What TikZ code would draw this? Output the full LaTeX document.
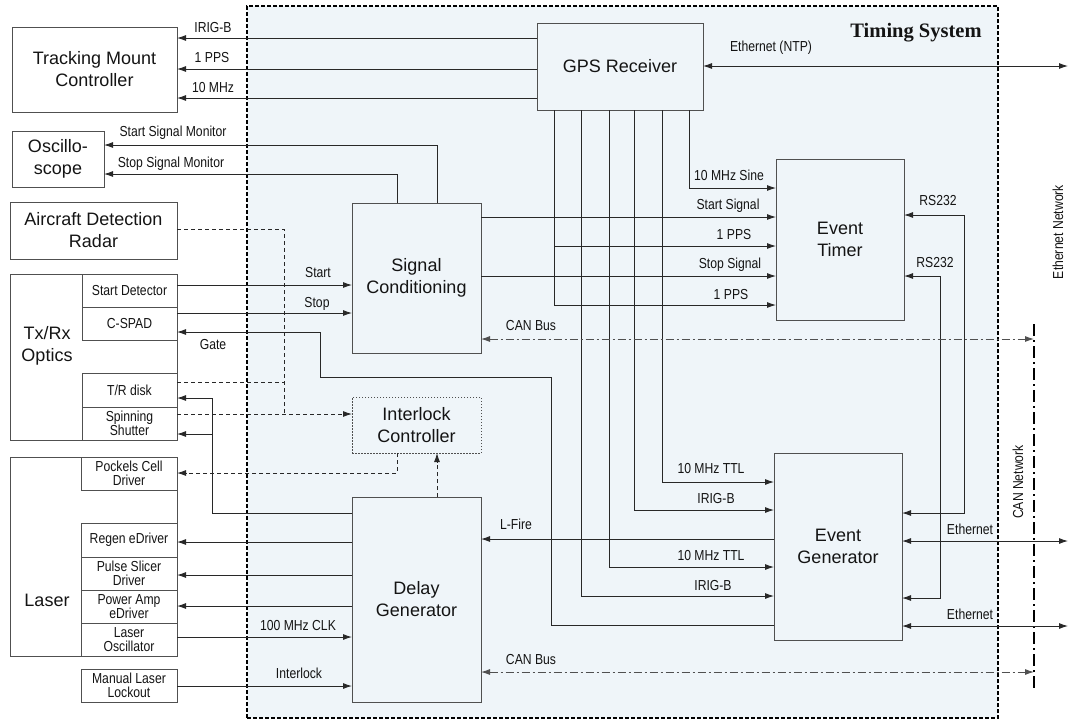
\documentclass[tikz,border=0pt]{standalone}
\usepackage{fontspec}
\setmainfont{Liberation Sans}
\newfontfamily\narrowfont[FakeStretch=0.84]{Liberation Sans}
\newfontfamily\titlefont{Liberation Serif}
\usetikzlibrary{arrows.meta}
\definecolor{tsbg}{RGB}{239,245,249}
\definecolor{ln}{RGB}{40,40,40}
\definecolor{bd}{RGB}{80,80,80}
\definecolor{tx}{RGB}{20,20,20}
\begin{document}
\begin{tikzpicture}[x=1pt,y=-1pt,
  box/.style={draw=bd, line width=0.9pt, anchor=north west, inner sep=0pt, outer sep=0pt,
    align=center, text=tx, font=\fontsize{18}{22}\selectfont},
  sub/.style={box, font=\narrowfont\fontsize{14.5}{14}\selectfont},
  big/.style={inner sep=0pt, align=center, text=tx, font=\fontsize{18}{22}\selectfont},
  lbl/.style={anchor=base, inner sep=0pt, text=tx, font=\narrowfont\fontsize{14.5}{15}\selectfont},
  tip/.tip={Latex[length=9pt,width=6pt]},
  arr/.style={draw=ln, line width=0.9pt, -tip},
  arrb/.style={draw=ln, line width=0.9pt, tip-tip},
  dsh/.style={draw=ln, line width=0.9pt, dash pattern=on 4pt off 3pt},
  dsharr/.style={dsh, -tip},
  canbus/.style={draw=bd, line width=0.9pt, dash pattern=on 8pt off 3pt on 2pt off 3pt, tip-tip},
]
\useasboundingbox (0,0) rectangle (1070,721);

% Timing system container
\node[draw=black, fill=tsbg, line width=1.3pt, dash pattern=on 4pt off 2pt, anchor=north west,
  inner sep=0pt, outer sep=0pt, minimum width=751pt, minimum height=712pt] (ts) at (247,6) {};
\node[anchor=base, inner sep=0pt, font=\titlefont\bfseries\fontsize{20.5}{22}\selectfont, text=tx] (tstitle) at (916,37) {Timing System};

% left boxes
\node[box, minimum width=165pt, minimum height=85pt] (tmc) at (12,27) {Tracking Mount\\Controller};
\node[box, minimum width=92pt, minimum height=56pt] (osc) at (12,131) {Oscillo-\\scope};
\node[box, minimum width=167pt, minimum height=57pt] (adr) at (10,202) {Aircraft Detection\\Radar};

\node[box, minimum width=167pt, minimum height=166pt] (txrx) at (10,274) {};
\node[big] (txrxl) at (47,346) {Tx/Rx\\Optics};
\node[sub, minimum width=95pt, minimum height=33pt] (sd) at (82,274) {Start Detector};
\node[sub, minimum width=95pt, minimum height=33pt] (cspad) at (82,307) {C-SPAD};
\node[sub, minimum width=95pt, minimum height=34pt] (trd) at (82,373) {T/R disk};
\node[sub, minimum width=95pt, minimum height=33pt] (ss) at (82,407) {Spinning\\Shutter};

\node[box, minimum width=167pt, minimum height=199pt] (laser) at (10,457) {};
\node[big] (laserl) at (47,600) {Laser};
\node[sub, minimum width=96pt, minimum height=33pt] (pcd) at (81,457) {Pockels Cell\\Driver};
\node[sub, minimum width=96pt, minimum height=34pt] (red) at (81,523) {Regen eDriver};
\node[sub, minimum width=96pt, minimum height=33pt] (psd) at (81,557) {Pulse Slicer\\Driver};
\node[sub, minimum width=96pt, minimum height=33pt] (pae) at (81,590) {Power Amp\\eDriver};
\node[sub, minimum width=96pt, minimum height=33pt] (lo) at (81,623) {Laser\\Oscillator};
\node[sub, minimum width=96pt, minimum height=33pt] (mll) at (81,669) {Manual Laser\\Lockout};

% timing system boxes
\node[box, minimum width=166pt, minimum height=87pt] (gps) at (537,23) {GPS Receiver};
\node[box, minimum width=129pt, minimum height=150pt] (sc) at (352,203) {Signal\\Conditioning};
\node[box, dash pattern=on 1.5pt off 1.5pt, minimum width=129pt, minimum height=56pt] (ic) at (352,397) {Interlock\\Controller};
\node[box, minimum width=129pt, minimum height=205pt] (dg) at (352,497) {Delay\\Generator};
\node[box, minimum width=128pt, minimum height=161pt] (et) at (776,159) {Event\\Timer};
\node[box, minimum width=128pt, minimum height=187pt] (eg) at (774,453) {Event\\Generator};

% network
\coordinate (canTop) at (1034,324);
\coordinate (canBot) at (1034,688);
\draw[draw=black, line width=1.6pt, dash pattern=on 12pt off 4pt on 2pt off 4pt] (canTop) -- (canBot);
\node[lbl, anchor=center, rotate=90] (cannet) at (1018,482) {CAN Network};
\node[lbl, anchor=center, rotate=90] (ethnet) at (1058,232) {Ethernet Network};

% GPS -> tracking mount
\draw[arr] (gps.west |- 0,38) -- (tmc.east |- 0,38);
\draw[arr] (gps.west |- 0,69) -- (tmc.east |- 0,69);
\draw[arr] (gps.west |- 0,98) -- (tmc.east |- 0,98);
\node[lbl] at (213,32) {IRIG-B};
\node[lbl] at (212,62) {1 PPS};
\node[lbl] at (213,92.5) {10 MHz};

% Signal conditioning -> oscilloscope
\draw[arr] (sc.north -| 437,0) |- (osc.east |- 0,145);
\draw[arr] (sc.north -| 397,0) |- (osc.east |- 0,174);
\node[lbl] at (173,136.5) {Start Signal Monitor};
\node[lbl] at (171,167.5) {Stop Signal Monitor};

% radar / interlock dashed
\draw[dsh] (adr.east |- 0,229) -| (284,414);
\draw[dsh] (trd.east |- 0,382) -- (284,382);
\draw[dsharr] (ss.east |- 0,414) -- (ic.west |- 0,414);
\draw[dsharr] (ic.south -| 397,0) |- (pcd.east |- 0,473);
\draw[dsharr] (dg.north -| 437,0) -- (ic.south -| 437,0);

% start / stop / gate
\draw[arr] (sd.east |- 0,285) -- (sc.west |- 0,285);
\draw[arr] (cspad.east |- 0,313) -- (sc.west |- 0,313);
\node[lbl] at (318,277.5) {Start};
\node[lbl] at (317,307.5) {Stop};
\draw[arr] (eg.west |- 0,625) -| (551,377) -| (320,332) -- (cspad.east |- 0,332);
\node[lbl] at (213,349.5) {Gate};

% delay generator -> T/R disk, shutter
\draw[arr] (dg.west |- 0,513) -| (212,398) -- (trd.east |- 0,398);
\draw[arr] (212,434) -- (ss.east |- 0,434);

% delay generator <-> laser
\draw[arr] (dg.west |- 0,542) -- (red.east |- 0,542);
\draw[arr] (dg.west |- 0,575) -- (psd.east |- 0,575);
\draw[arr] (dg.west |- 0,606) -- (pae.east |- 0,606);
\draw[arr] (lo.east |- 0,637) -- (dg.west |- 0,637);
\draw[arr] (mll.east |- 0,686) -- (dg.west |- 0,686);
\node[lbl] at (298,630.5) {100 MHz CLK};
\node[lbl] at (299,678.5) {Interlock};

% signal conditioning -> event timer
\draw[arr] (sc.east |- 0,217) -- (et.west |- 0,217);
\draw[arr] (sc.east |- 0,276) -- (et.west |- 0,276);

% GPS -> event timer
\draw[arr] (gps.south -| 554,0) |- (et.west |- 0,305);
\draw[arr] (554,246) -- (et.west |- 0,246);
\draw[arr] (gps.south -| 689,0) |- (et.west |- 0,188);
\node[lbl] at (729,180.5) {10 MHz Sine};
\node[lbl] at (728,209.5) {Start Signal};
\node[lbl] at (734,239.5) {1 PPS};
\node[lbl] at (730,268.5) {Stop Signal};
\node[lbl] at (731,299.5) {1 PPS};

% GPS -> event generator
\draw[arr] (gps.south -| 662,0) |- (eg.west |- 0,482);
\draw[arr] (gps.south -| 634,0) |- (eg.west |- 0,510);
\draw[arr] (gps.south -| 609,0) |- (eg.west |- 0,567);
\draw[arr] (gps.south -| 581,0) |- (eg.west |- 0,596);
\node[lbl] at (711,473.5) {10 MHz TTL};
\node[lbl] at (716,503.5) {IRIG-B};
\node[lbl] at (711,560.5) {10 MHz TTL};
\node[lbl] at (713,590.5) {IRIG-B};

% L-Fire
\draw[arr] (eg.west |- 0,539) -- (dg.east |- 0,539);
\node[lbl] at (516,529.5) {L-Fire};

% RS232
\draw[arrb] (et.east |- 0,215) -| (964,513) -- (eg.east |- 0,513);
\draw[arrb] (et.east |- 0,276) -| (940,598) -- (eg.east |- 0,598);
\node[lbl] at (938,205.5) {RS232};
\node[lbl] at (935,267.5) {RS232};

% Ethernet
\coordinate (ethA) at (1068,66);
\coordinate (ethB) at (1068,541);
\coordinate (ethC) at (1068,626);
\draw[arrb] (gps.east |- ethA) -- (ethA);
\draw[arrb] (eg.east |- ethB) -- (ethB);
\draw[arrb] (eg.east |- ethC) -- (ethC);
\node[lbl] at (771,51.5) {Ethernet (NTP)};
\node[lbl] at (970,534.5) {Ethernet};
\node[lbl] at (970,619.5) {Ethernet};

% CAN bus
\draw[canbus] (sc.east |- 0,339) -- (canTop |- 0,339);
\draw[canbus] (dg.east |- 0,672) -- (canTop |- 0,672);
\node[lbl] at (531,330.5) {CAN Bus};
\node[lbl] at (531,664.5) {CAN Bus};
\end{tikzpicture}
\end{document}
